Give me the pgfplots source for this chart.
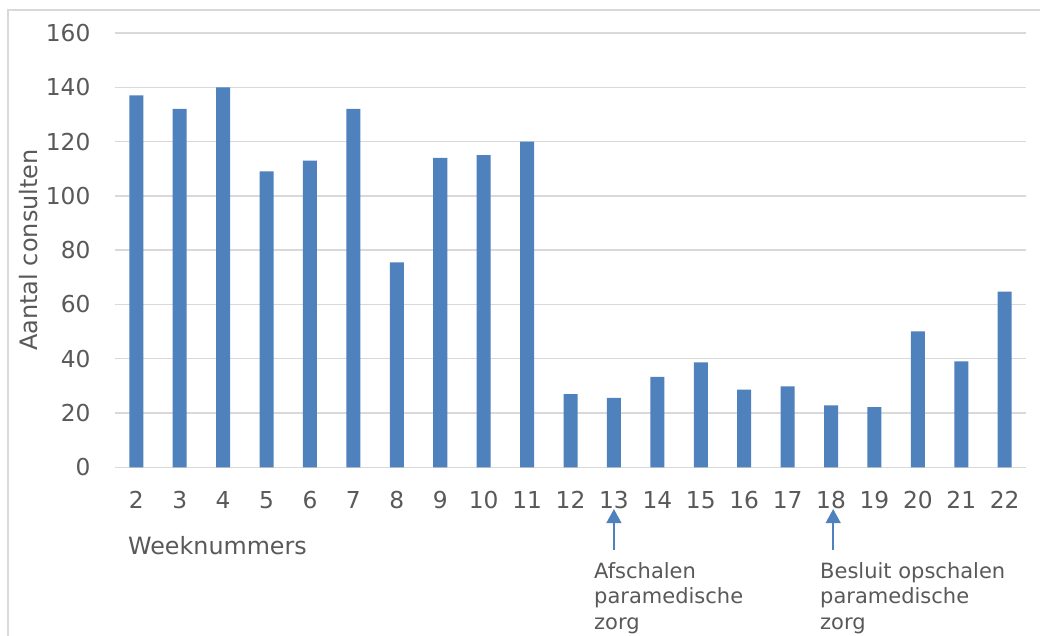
\documentclass[border=0pt]{standalone}
\usepackage{pgfplots}
\pgfplotsset{compat=1.18}
\usepackage{fontspec}
\setmainfont{DejaVu Sans}
\usetikzlibrary{arrows.meta}
\definecolor{barblue}{HTML}{4F81BD}
\definecolor{txt}{HTML}{595959}
\definecolor{gridc}{HTML}{D9D9D9}
\begin{document}
\begin{tikzpicture}
\useasboundingbox (0pt,0pt) rectangle (1040pt,635pt);
\fill[white] (0pt,0pt) rectangle (1040pt,635pt);
\draw[gridc, line width=1.5pt] (8pt,-5pt) -- (8pt,625pt) -- (1045pt,625pt);
\begin{axis}[
  at={(114.6pt,167.7pt)}, anchor=south west,
  scale only axis, width=911.8pt, height=434.3pt,
  xmin=1.5, xmax=22.5, ymin=0, ymax=160,
  ytick={0,20,...,160},
  xtick={2,...,22},
  axis line style={draw=none},
  major tick length=0pt,
  ymajorgrids, grid style={gridc, line width=1.3pt},
  tick label style={font=\fontsize{23.3}{27}\selectfont, text=txt},
  /pgf/number format/assume math mode=true,
  xticklabel style={anchor=base, yshift=-40.7pt, inner sep=0pt},
  yticklabel style={anchor=east, xshift=-24pt, inner sep=0pt},
  ybar, bar width=14pt,
  clip=false,
]
\addplot[fill=barblue, draw=none] coordinates {
 (2,137) (3,132) (4,140) (5,109) (6,113) (7,132) (8,75.5) (9,114) (10,115) (11,120)
 (12,27) (13,25.6) (14,33.3) (15,38.7) (16,28.6) (17,29.8) (18,22.8) (19,22.2)
 (20,50.1) (21,39) (22,64.7)
};
\draw[barblue, line width=1.5pt, -{Triangle[width=15pt,length=14pt]}] (axis cs:13,-30.5) -- (axis cs:13,-15.4);
\draw[barblue, line width=1.5pt, -{Triangle[width=15pt,length=14pt]}] (axis cs:18.05,-30.5) -- (axis cs:18.05,-15.4);
\end{axis}
\node[rotate=90, anchor=base, text=txt, font=\fontsize{24}{28}\selectfont, inner sep=0pt] at (37pt,385pt) {Aantal consulten};
\node[anchor=base west, text=txt, font=\fontsize{23.8}{28}\selectfont, inner sep=0pt] at (128pt,81pt) {Weeknummers};
\begin{scope}[every node/.style={anchor=base west, text=txt, font=\fontsize{21}{25}\selectfont, inner sep=0pt}]
\node at (594pt,57pt) {Afschalen};
\node at (594pt,31.3pt) {paramedische};
\node at (594pt,5.6pt) {zorg};
\node at (820pt,57pt) {Besluit opschalen};
\node at (820pt,31.3pt) {paramedische};
\node at (820pt,5.6pt) {zorg};
\end{scope}
\end{tikzpicture}
\end{document}
